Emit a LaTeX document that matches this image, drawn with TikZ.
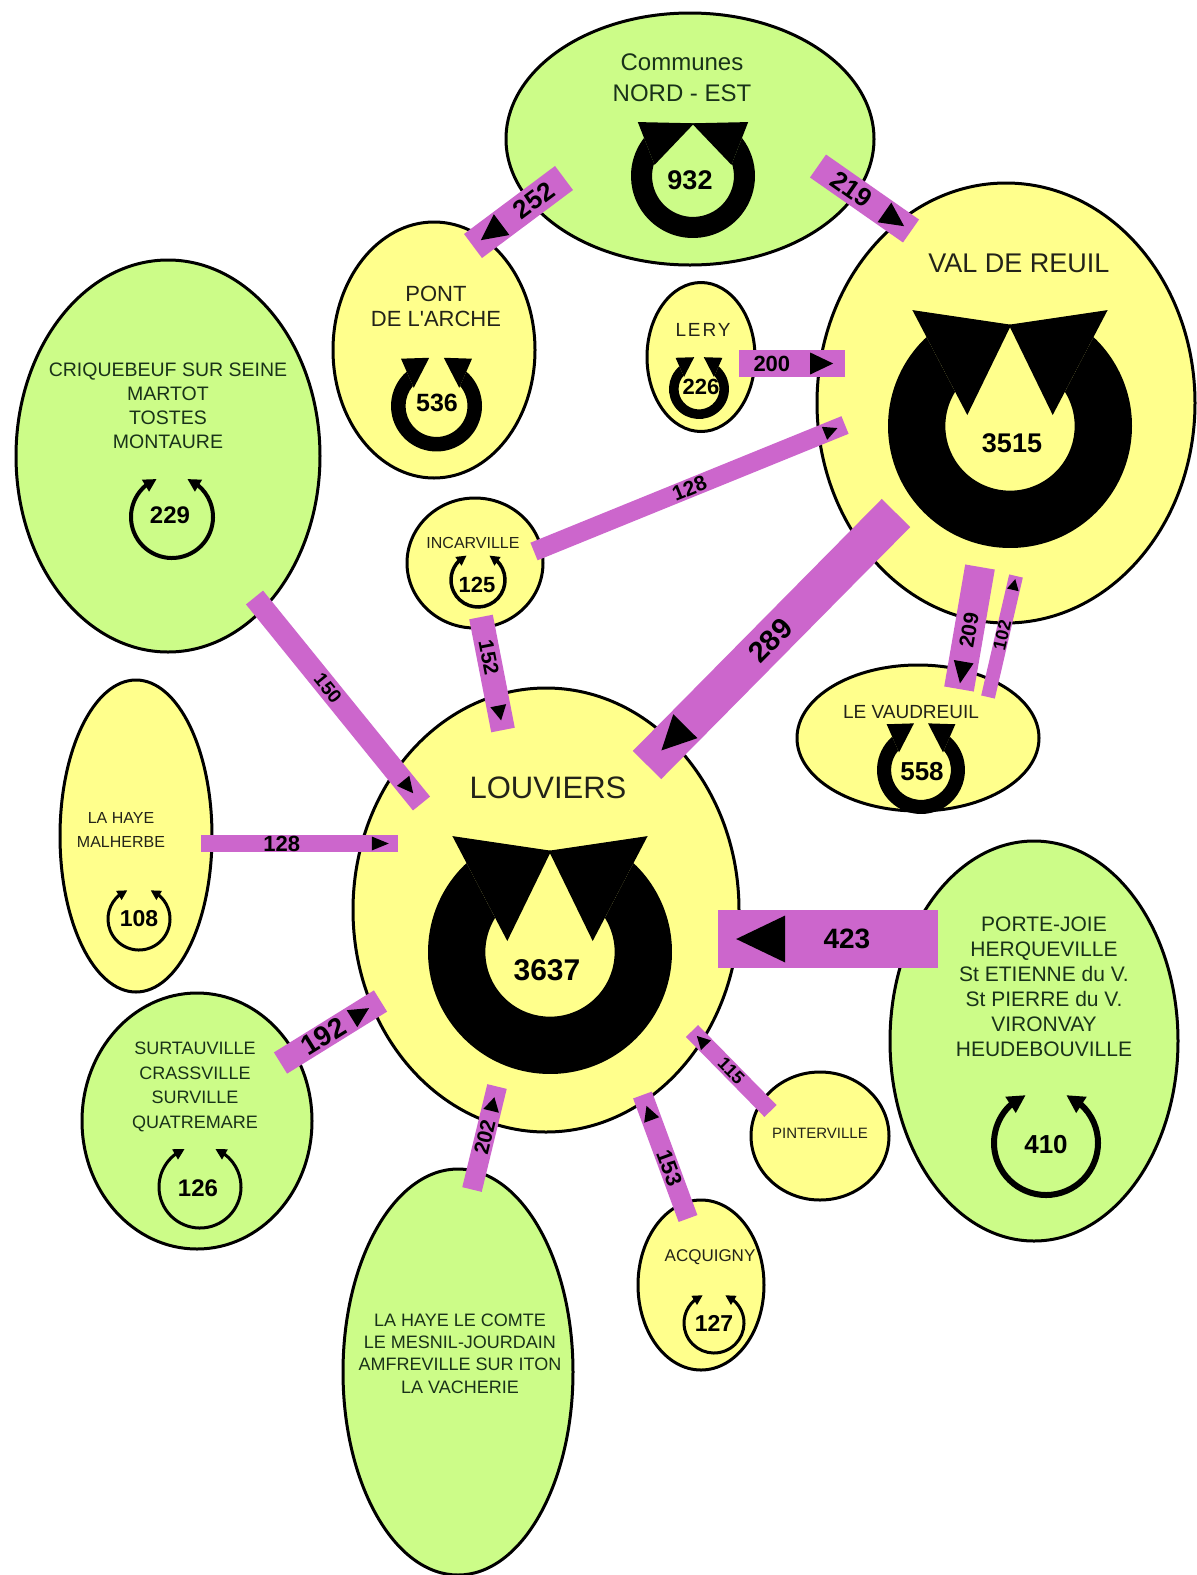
\documentclass[tikz,border=0pt]{standalone}
\usepackage{fontspec}
\setmainfont{Liberation Sans}
\usetikzlibrary{shapes.geometric,calc,arrows.meta,bending}
\definecolor{gfill}{RGB}{204,252,136}
\definecolor{yfill}{RGB}{255,255,140}
\definecolor{barc}{RGB}{204,102,204}
\definecolor{txty}{RGB}{35,35,25}
\definecolor{txtg}{RGB}{25,50,25}
\tikzset{
 blob/.style={ellipse, draw=black, line width=3pt, inner sep=0pt},
 gblob/.style={blob, fill=gfill},
 yblob/.style={blob, fill=yfill},
 flowbar/.style={draw=barc, line width=#1pt},
 num/.style={text=black, inner sep=0pt, font=\bfseries\fontsize{#1}{#1}\selectfont},
 ylbl/.style={text=txty, inner sep=0pt, align=center},
 glbl/.style={text=txtg, inner sep=0pt, align=center},
}
\newcommand\fsz[2]{\fontsize{#1}{#2}\selectfont}
\newcommand\flowtri[5]{%
 \pgfpointdiff{\pgfpointanchor{#1}{center}}{\pgfpointanchor{#2}{center}}%
 \pgfgetlastxy\fdx\fdy
 \pgfmathsetmacro\fang{atan2(\fdy,\fdx)}%
 \fill[black, shift={($(#1)!#3!(#2)$)}, rotate=\fang] ({#4/2},0) -- ({-#4/2},#5) -- ({-#4/2},-#5) -- cycle;}
\newcommand\flow[9]{%
 \draw[flowbar=#2] (#1s) -- (#1e);
 \flowtri{#1s}{#1e}{#3}{#4}{#5}
 \node[num=#9, rotate=#8] (#1l) at ($(#1s)!#7!(#1e)$) {#6};}
\newcommand\recA[3]{%
 \begin{scope}[shift={(#1,#2)},scale=#3,yscale=-1]
 \fill[black] (133.2:100) arc[start angle=133.2,end angle=406.8,radius=100] -- (31.9:53) arc[start angle=391.9,end angle=148.1,radius=53] -- cycle;
 \fill[black] (-80,95) -- (1,83) -- (-35,9) -- cycle;
 \fill[black] (80,95) -- (-1,83) -- (35,9) -- cycle;
 \end{scope}}
\newcommand\recB[3]{%
 \begin{scope}[shift={(#1,#2)},scale=#3,yscale=-1]
 \fill[black] (142.15:100) arc[start angle=142.15,end angle=397.85,radius=100] -- (17.8:66) arc[start angle=377.8,end angle=162.2,radius=66] -- cycle;
 \fill[black] (-89,87) -- (2,85) -- (-62,18) -- cycle;
 \fill[black] (89,87) -- (-2,85) -- (62,18) -- cycle;
 \end{scope}}
\newcommand\recC[3]{%
 \begin{scope}[shift={(#1,#2)},scale=#3,yscale=-1]
 \fill[black] (130.95:100) arc[start angle=130.95,end angle=409.05,radius=100] -- (40.41:68) arc[start angle=400.41,end angle=139.59,radius=68] -- cycle;
 \fill[black] (-78,104) -- (-16,106) -- (-50,40) -- cycle;
 \fill[black] (78,104) -- (16,106) -- (50,40) -- cycle;
 \end{scope}}
\newcommand\thinrec[7]{%
 \begin{scope}[shift={(#1,#2)},yscale=-1]
 \draw[line width=#4pt, {Triangle[length=#5pt,width=#5pt]}-{Triangle[length=#5pt,width=#5pt]}] (#6:#3) arc[start angle=#6,end angle=#7,radius=#3];
 \end{scope}}
\begin{document}
\begin{tikzpicture}[x=1pt,y=-1pt]
\useasboundingbox (0,0) rectangle (1197,1575);
\fill[white] (0,0) rectangle (1197,1575);
% ---- ellipses
\node[gblob, minimum width=368pt, minimum height=252pt] (eNE) at (690,139) {};
\node[yblob, minimum width=378pt, minimum height=440pt] (eVdR) at (1006,403) {};
\node[yblob, minimum width=202pt, minimum height=256pt] (ePdA) at (434,350) {};
\node[yblob, minimum width=108pt, minimum height=149pt] (eLery) at (701,357) {};
\node[yblob, minimum width=136pt, minimum height=130pt] (eInc) at (475,563) {};
\node[gblob, minimum width=304pt, minimum height=392pt] (eCriq) at (168,456) {};
\node[yblob, minimum width=152pt, minimum height=312pt] (eLHM) at (136,836) {};
\node[gblob, minimum width=230pt, minimum height=256pt] (eSurt) at (197,1121) {};
\node[yblob, minimum width=386pt, minimum height=444pt] (eLouv) at (546,910) {};
\node[yblob, minimum width=242pt, minimum height=146pt] (eLeV) at (918,738) {};
\node[gblob, minimum width=288pt, minimum height=400pt] (ePJ) at (1034,1041) {};
\node[yblob, minimum width=138pt, minimum height=128pt] (ePint) at (820,1136) {};
\node[yblob, minimum width=126pt, minimum height=170pt] (eAcq) at (701,1285) {};
\node[gblob, minimum width=230pt, minimum height=406pt] (eLHLC) at (458,1372) {};
% ---- flow end points
\coordinate (f252s) at (564,178);   \coordinate (f252e) at (473,246);
\coordinate (f219s) at (818,166);   \coordinate (f219e) at (911,231);
\coordinate (f200s) at (739,363.5); \coordinate (f200e) at (845,363.5);
\coordinate (f128is) at (534,551.5);\coordinate (f128ie) at (845,425);
\coordinate (f289s) at (896,513);   \coordinate (f289e) at (647,765);
\coordinate (f209s) at (980,567);   \coordinate (f209e) at (959,689);
\coordinate (f102s) at (988,697);   \coordinate (f102e) at (1016,576);
\coordinate (f152s) at (481,617);   \coordinate (f152e) at (503,730);
\coordinate (f150s) at (254.5,597.5); \coordinate (f150e) at (421.5,803.5);
\coordinate (f128ls) at (201,843.5);\coordinate (f128le) at (398,843.5);
\coordinate (f423s) at (938,939);   \coordinate (f423e) at (718,939);
\coordinate (f192s) at (280.5,1063);\coordinate (f192e) at (380.5,1001);
\coordinate (f202s) at (472,1189.5);\coordinate (f202e) at (497,1086.5);
\coordinate (f153s) at (688,1218.5);\coordinate (f153e) at (642.5,1095);
\coordinate (f115s) at (770.5,1111);\coordinate (f115e) at (692,1031);
% ---- flows
\flow{f252}{30}{0.80}{26}{13}{252}{0.33}{36.8}{26}
\flow{f219}{28}{0.82}{24}{12}{219}{0.36}{-35}{26}
\flow{f200}{27}{0.78}{23}{11}{200}{0.31}{0}{22}
\flow{f128i}{19}{0.955}{14}{7}{128}{0.50}{22.1}{21}
\flow{f289}{40}{0.894}{34}{17}{289}{0.505}{45.3}{29}
\flow{f209}{30}{0.865}{22}{10}{209}{0.52}{80.2}{21}
\flow{f102}{14}{0.93}{11}{6}{102}{0.51}{77}{18}
\flow{f152}{24}{0.85}{15}{8}{152}{0.36}{-79}{21}
\flow{f150}{22}{0.92}{16}{8}{150}{0.44}{-51}{19}
\flow{f128l}{17}{0.91}{17}{7}{128}{0.41}{0}{22}
\flow{f423}{58}{0.806}{49}{23.5}{423}{0.414}{0}{28}
\flow{f192}{25}{0.80}{20}{10}{192}{0.43}{31.8}{28}
\flow{f202}{20}{0.83}{14}{8}{202}{0.51}{76.4}{21}
\flow{f153}{20}{0.855}{15}{8}{153}{0.41}{-69.8}{22}
\flow{f115}{17}{0.88}{13}{7}{115}{0.50}{-45.5}{18}
% ---- loop symbols
\recA{1010}{426}{1.22}
\recA{550}{952}{1.22}
\recB{693}{176}{0.62}
\recC{436.5}{406}{0.455}
\recC{921}{770}{0.44}
\recC{699}{389}{0.30}
\thinrec{172}{517}{41}{4}{13}{112}{428}
\thinrec{478}{580}{27}{3.5}{10}{115}{425}
\thinrec{139}{919}{31}{3}{10}{112}{428}
\thinrec{200}{1187}{41}{3}{11}{112}{428}
\thinrec{714}{1323}{30}{3}{10}{112}{428}
\thinrec{1046}{1143}{52}{6}{18}{113}{427}
% ---- names
\node[glbl, font=\fsz{24}{31}] (tNE) at (682,77.5) {Communes\\NORD - EST};
\node[ylbl, font=\fsz{27}{32}] (tVdR) at (1019,263) {VAL DE REUIL};
\node[ylbl, font=\fsz{31}{36}] (tLouv) at (548,788) {LOUVIERS};
\node[ylbl, font=\fsz{22}{25}] (tPdA) at (436,306.5) {PONT\\DE L\textquotesingle ARCHE};
\node[ylbl, font=\fsz{19}{22}\addfontfeature{LetterSpace=10}] (tLery) at (703,330) {LERY};
\node[ylbl, font=\fsz{16}{20}] (tInc) at (473,543) {INCARVILLE};
\node[glbl, font=\fsz{19.5}{24.1}] (tCriq) at (168,405.6) {CRIQUEBEUF SUR SEINE\\MARTOT\\TOSTES\\MONTAURE};
\node[ylbl, font=\fsz{16}{24}] (tLHM) at (121,830) {LA HAYE\\MALHERBE};
\node[glbl, font=\fsz{18}{24.7}] (tSurt) at (195,1087) {SURTAUVILLE\\CRASSVILLE\\SURVILLE\\QUATREMARE};
\node[ylbl, font=\fsz{19}{23}] (tLeV) at (911,712) {LE VAUDREUIL};
\node[glbl, font=\fsz{21}{25}] (tPJ) at (1044,986.5) {PORTE-JOIE\\HERQUEVILLE\\St ETIENNE du V.\\St PIERRE du V.\\VIRONVAY\\HEUDEBOUVILLE};
\node[ylbl, font=\fsz{15}{18}] (tPint) at (820,1133) {PINTERVILLE};
\node[ylbl, font=\fsz{17}{21}] (tAcq) at (710,1257) {ACQUIGNY};
\node[glbl, font=\fsz{18}{22.3}] (tLHLC) at (460,1353.5) {LA HAYE LE COMTE\\LE MESNIL-JOURDAIN\\AMFREVILLE SUR ITON\\LA VACHERIE};
% ---- numbers
\node[num=27] (n932) at (690,180) {932};
\node[num=27] (n3515) at (1012,443) {3515};
\node[num=30] (n3637) at (547,970) {3637};
\node[num=25] (n536) at (437,403) {536};
\node[num=22] (n226) at (701,387) {226};
\node[num=22] (n125) at (477,585) {125};
\node[num=24] (n229) at (170,515) {229};
\node[num=23] (n108) at (139,919) {108};
\node[num=24] (n126) at (198,1188) {126};
\node[num=26] (n558) at (922,772) {558};
\node[num=26] (n410) at (1046,1145) {410};
\node[num=23] (n127) at (714,1323) {127};
\end{tikzpicture}
\end{document}
